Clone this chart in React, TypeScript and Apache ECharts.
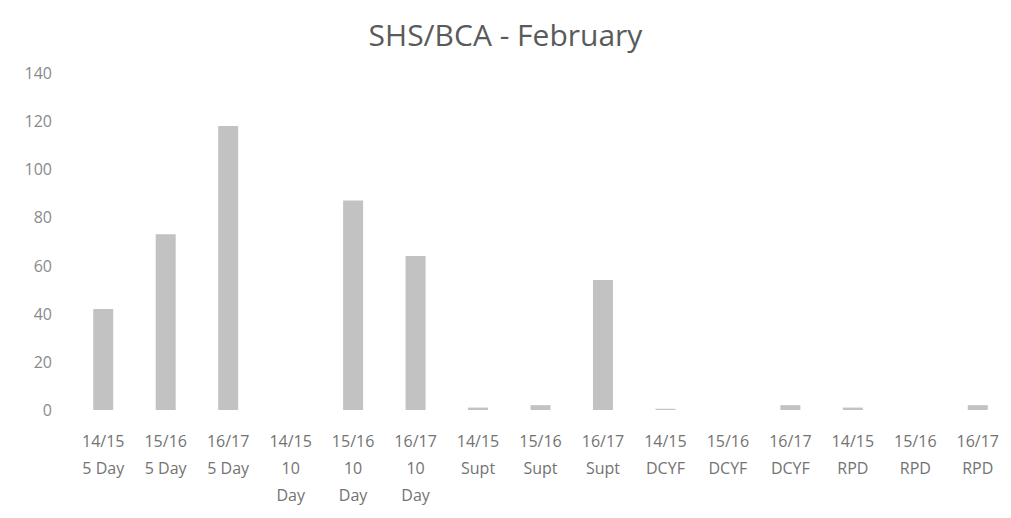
import React, { useEffect, useRef } from "react";
import * as echarts from "echarts";

const titleText = "SHS/BCA - February";
const categories = [
  "14/15\n5 Day", "15/16\n5 Day", "16/17\n5 Day",
  "14/15\n10\nDay", "15/16\n10\nDay", "16/17\n10\nDay",
  "14/15\nSupt", "15/16\nSupt", "16/17\nSupt",
  "14/15\nDCYF", "15/16\nDCYF", "16/17\nDCYF",
  "14/15\nRPD", "15/16\nRPD", "16/17\nRPD",
];
const values = [42, 73, 118, 0, 87, 64, 1, 2, 54, 0.5, 0, 2, 1, 0, 2];
const yMin = 0;
const yMax = 140;
const yStep = 20;

export default function App() {
  const ref = useRef<HTMLDivElement>(null);
  useEffect(() => {
    if (!ref.current) return;
    const chart = echarts.init(ref.current, null, { renderer: "svg" });
    chart.setOption({
      animation: false,
      backgroundColor: "#ffffff",
      title: {
        text: titleText,
        left: "center",
        top: 14,
        textStyle: { fontFamily: "Open Sans", fontSize: 30, fontWeight: "normal", color: "#5a5a5a" },
      },
      grid: { left: 72, right: 2, top: 73, bottom: 108 },
      xAxis: {
        type: "category",
        data: categories,
        axisLine: { show: false },
        axisTick: { show: false },
        axisLabel: {
          interval: 0,
          margin: 17,
          fontFamily: "Open Sans",
          fontSize: 16,
          lineHeight: 27,
          color: "#737373",
        },
      },
      yAxis: {
        type: "value",
        min: yMin,
        max: yMax,
        interval: yStep,
        splitLine: { show: false },
        axisLine: { show: false },
        axisTick: { show: false },
        axisLabel: {
          margin: 20,
          fontFamily: "Open Sans",
          fontSize: 16,
          color: "#8a8a8a",
        },
      },
      series: [
        {
          type: "bar",
          data: values,
          barWidth: 20,
          itemStyle: { color: "#c2c2c2" },
        },
      ],
    });
    return () => chart.dispose();
  }, []);
  return <div ref={ref} style={{ width: 1011, height: 518, position: "absolute", left: 0, top: 0 }} />;
}
